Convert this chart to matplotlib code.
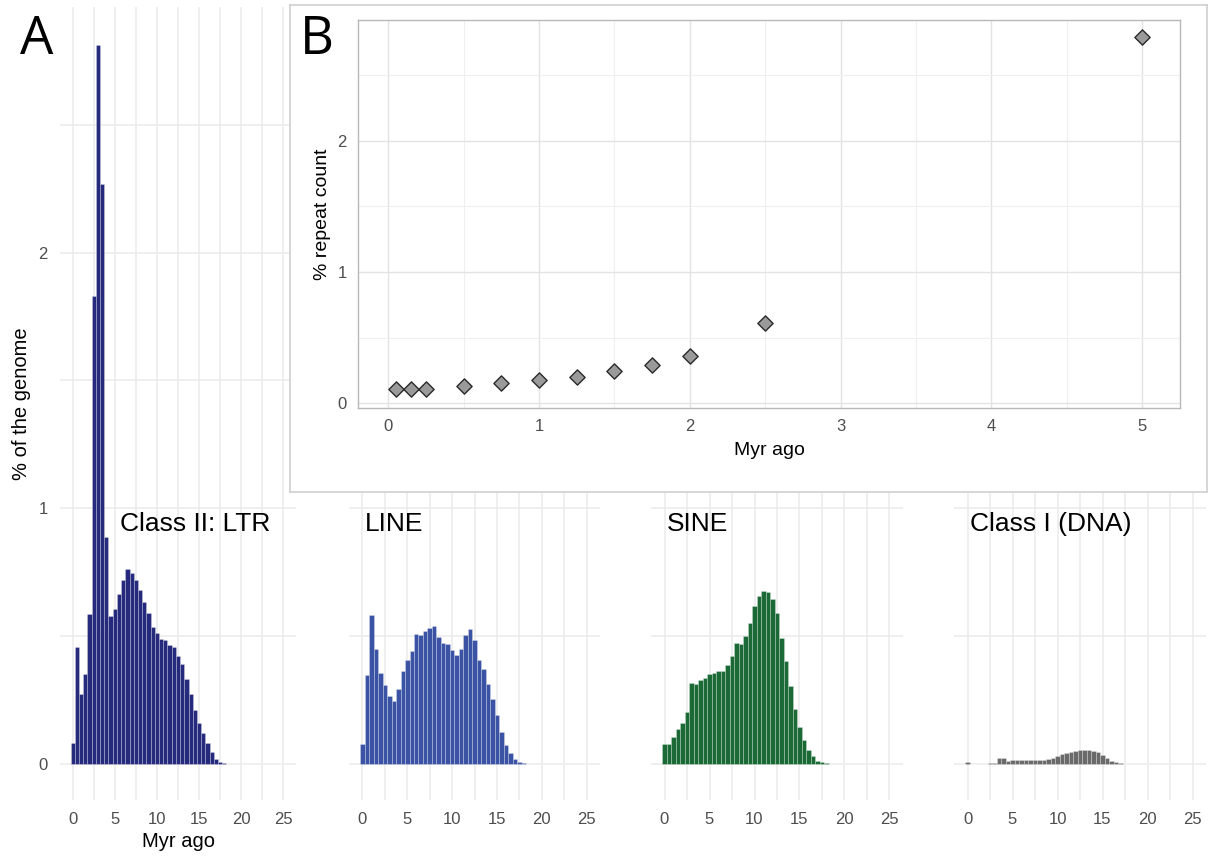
import matplotlib.pyplot as plt
import numpy as np

# --- data ---
bin_centers = np.arange(0, 25.01, 0.5)  # Myr ago, 0.5 Myr bins

ltr = [0.082, 0.458, 0.276, 0.353, 0.586, 1.83, 2.81, 2.27, 0.89, 0.579,
       0.605, 0.664, 0.72, 0.762, 0.746, 0.719, 0.681, 0.634, 0.592, 0.536,
       0.514, 0.491, 0.484, 0.466, 0.458, 0.422, 0.393, 0.332, 0.273, 0.212,
       0.161, 0.12, 0.081, 0.046, 0.022, 0.009, 0.004, 0.002, 0.001, 0.001,
       0.001, 0.001, 0.001, 0.001, 0.001, 0.001, 0.001, 0.001, 0.001, 0.001, 0.001]
line = [0.077, 0.348, 0.585, 0.452, 0.357, 0.311, 0.266, 0.247, 0.293, 0.363,
        0.408, 0.444, 0.51, 0.506, 0.522, 0.533, 0.54, 0.497, 0.475, 0.471,
        0.445, 0.428, 0.452, 0.506, 0.529, 0.484, 0.408, 0.371, 0.3125, 0.253,
        0.193, 0.126, 0.076, 0.042, 0.022, 0.009, 0.004, 0.002, 0.001, 0.001,
        0.001, 0.001, 0.001, 0.001, 0.001, 0.001, 0.001, 0.001, 0.001, 0.001, 0.001]
sine = [0.079, 0.077, 0.108, 0.138, 0.16, 0.204, 0.316, 0.315, 0.329, 0.337,
        0.353, 0.357, 0.365, 0.365, 0.388, 0.423, 0.474, 0.471, 0.503, 0.552,
        0.62, 0.656, 0.678, 0.673, 0.645, 0.592, 0.495, 0.402, 0.306, 0.214,
        0.146, 0.095, 0.055, 0.031, 0.014, 0.008, 0.004, 0.002, 0.001, 0.001,
        0.001, 0.001, 0.001, 0.001, 0.001, 0.001, 0.001, 0.001, 0.001, 0.001, 0.001]
dna = [0.008, 0.0, 0.001, 0.002, 0.002, 0.004, 0.005, 0.023, 0.023, 0.012,
       0.016, 0.017, 0.017, 0.017, 0.017, 0.017, 0.017, 0.017, 0.022, 0.025,
       0.033, 0.038, 0.043, 0.048, 0.053, 0.056, 0.056, 0.056, 0.051, 0.046,
       0.036, 0.025, 0.014, 0.008, 0.004, 0.002, 0.001, 0.001, 0.001, 0.001,
       0.001, 0.001, 0.001, 0.001, 0.001, 0.001, 0.001, 0.001, 0.001, 0.001, 0.001]

panel_names = ["Class II: LTR", "LINE", "SINE", "Class I (DNA)"]
panel_values = [ltr, line, sine, dna]
panel_colors = ["#262a7c", "#3a53a4", "#1b6a36", "#6a6a6a"]
label_x = [5.6, 0.3, 0.3, 0.3]

# inset B
inset_age = [0.05, 0.15, 0.25, 0.5, 0.75, 1.0, 1.25, 1.5, 1.75, 2.0, 2.5, 5.0]
inset_pct = [0.107, 0.112, 0.113, 0.13, 0.153, 0.176, 0.2, 0.244, 0.29, 0.36, 0.61, 2.79]

W, H = 1209, 860
plt.rcParams['font.family'] = ['Liberation Sans', 'DejaVu Sans']
fig = plt.figure(figsize=(W / 100, H / 100), dpi=100)
fig.patch.set_facecolor('white')

GRID = '#ebebeb'
TICK = '#4d4d4d'


def px_axes(left, top, right, bottom, **kw):
    return fig.add_axes([left / W, 1 - bottom / H, (right - left) / W, (bottom - top) / H], **kw)


# panel extents in pixels (left, right)
panel_px = [(60, 296), (349, 600), (651, 903), (954, 1206)]

for i, (name, vals, col, lx) in enumerate(zip(panel_names, panel_values, panel_colors, label_x)):
    ax = px_axes(panel_px[i][0], 7, panel_px[i][1], 800)
    ax.set_zorder(0)
    ax.bar(bin_centers, vals, width=0.5, color=col,
           edgecolor=(1, 1, 1, 0.35), linewidth=0.5, zorder=3)
    ax.set_xlim(-1.5, 26.5)
    ax.set_ylim(-0.14, 2.96)
    ax.set_xticks([0, 5, 10, 15, 20, 25])
    ax.set_xticks(np.arange(2.5, 25, 5), minor=True)
    ax.set_yticks([0, 1, 2])
    ax.set_yticks([0.5, 1.5, 2.5], minor=True)
    ax.grid(True, which='both', color=GRID, linewidth=1.1, zorder=0)
    ax.set_axisbelow(True)
    for s in ax.spines.values():
        s.set_visible(False)
    ax.tick_params(which='both', length=0, colors=TICK, labelsize=12, pad=9)
    if i > 0:
        ax.set_yticklabels([])
    else:
        ax.set_ylabel("% of the genome", fontsize=14.5, labelpad=5)
        ax.set_xlabel("Myr ago", fontsize=14.5, labelpad=3)
    ax.text(lx, 0.94, name, fontsize=19, ha='left', va='center', color='black')

# inset outer box
box = px_axes(290, 5, 1207, 492)
box.set_zorder(1)
box.set_xticks([])
box.set_yticks([])
box.set_facecolor('white')
for s in box.spines.values():
    s.set_color('#d0d0d0')
    s.set_linewidth(1.2)

# inset plot
axi = px_axes(358, 20, 1180, 408)
axi.set_zorder(2)
axi.scatter(inset_age, inset_pct, marker='D', s=60, facecolor='#9a9a9a',
            edgecolor='#2a2a2a', linewidth=1.0, zorder=3)
axi.set_xlim(-0.2, 5.25)
axi.set_ylim(-0.035, 2.92)
axi.set_xticks([0, 1, 2, 3, 4, 5])
axi.set_xticks(np.arange(0.5, 5.1, 1), minor=True)
axi.set_yticks([0, 1, 2])
axi.set_yticks([0.5, 1.5, 2.5], minor=True)
axi.grid(True, which='major', color='#e3e3e3', linewidth=1.0)
axi.grid(True, which='minor', color='#efefef', linewidth=0.8)
axi.set_axisbelow(True)
for s in axi.spines.values():
    s.set_color('#b8b8b8')
    s.set_linewidth(1.0)
axi.tick_params(which='both', length=0, colors=TICK, labelsize=12, pad=8)
axi.set_xlabel("Myr ago", fontsize=14, labelpad=6)
axi.set_ylabel("% repeat count", fontsize=14, labelpad=5)

fig.text(37 / W, 1 - 40 / H, "A", fontsize=38, family=['Open Sans', 'DejaVu Sans'],
         ha='center', va='center', zorder=5)
fig.text(317 / W, 1 - 40 / H, "B", fontsize=38, family=['Open Sans', 'DejaVu Sans'],
         ha='center', va='center', zorder=5)

fig.savefig("out.png", dpi=100)
